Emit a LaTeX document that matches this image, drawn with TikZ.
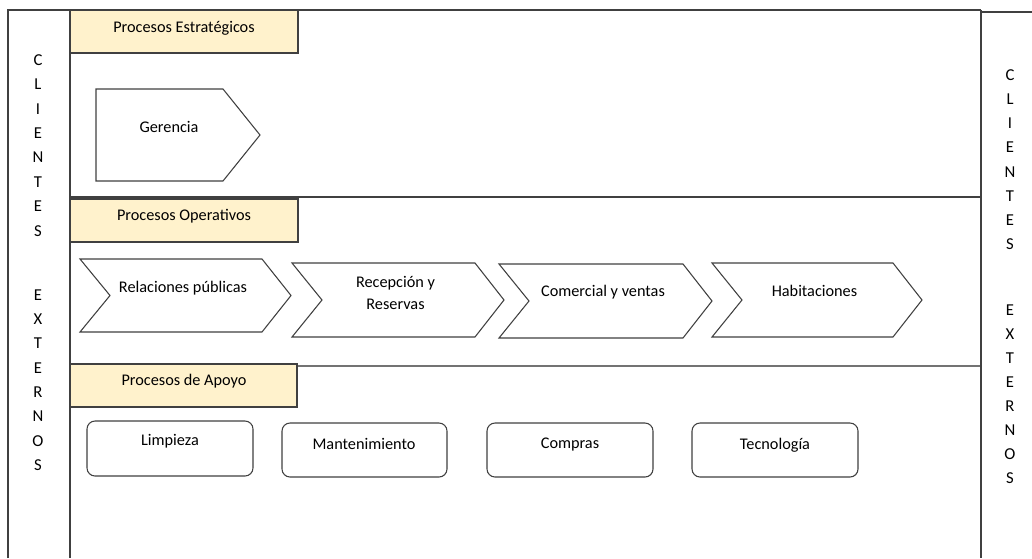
\documentclass[tikz,border=0pt]{standalone}
\usepackage{fontspec}
\setmainfont{Carlito}
\definecolor{hdrfill}{HTML}{FFF2CC}
\definecolor{linegray}{HTML}{404040}

\tikzset{
  frameline/.style={draw=linegray, line width=0.9pt},
  hdrbox/.style={draw=linegray, fill=hdrfill, line width=0.9pt},
  procshape/.style={draw=linegray, fill=white, line width=0.8pt},
  apoyobox/.style={draw=linegray, fill=white, line width=0.8pt, rounded corners=6pt},
  lbl/.style={font=\fontsize{12.2}{14}\selectfont, text=black, align=center, inner sep=0pt},
  vletter/.style={font=\fontsize{12.5}{14}\selectfont, text=black, inner sep=0pt}
}

\begin{document}
\begin{tikzpicture}[x=0.75pt,y=-0.75pt]
  \useasboundingbox (0,0) rectangle (1032,558);

  % Outer frame and column of clients
  \draw[frameline] (8,558) -- (8,10) -- (981,10);
  \draw[frameline] (981,12) -- (1032,12);
  \draw[frameline] (70,10) -- (70,558);
  \draw[frameline] (981,10) -- (981,558);

  % Separators
  \draw[frameline] (70,197) -- (980,197);
  \draw[frameline, draw=black!55] (70,366) -- (980,366);

  % Headers
  \draw[hdrbox] (70,10) rectangle (298,53);
  \node[lbl] (hdrEst) at (184,28) {Procesos Estratégicos};
  \draw[hdrbox] (70,199) rectangle (298,242);
  \node[lbl] (hdrOpe) at (184,216) {Procesos Operativos};
  \draw[hdrbox] (70,364) rectangle (297,407);
  \node[lbl] (hdrApo) at (184,381) {Procesos de Apoyo};

  % Strategic
  \draw[procshape] (96,89) -- (223,89) -- (260,135) -- (223,181) -- (96,181) -- cycle;
  \node[lbl] (gerencia) at (169,127) {Gerencia};

  % Operative chain
  \foreach \xl/\xr/\yt/\yb/\nm/\txt/\ty in {
      80/262/259/332/relpub/{Relaciones públicas}/288,
      292/475/263/337/recep/{Recepción y\\[3pt]Reservas}/293,
      499/683/264/338/comer/{Comercial y ventas}/292,
      712/893/263/337/habit/{Habitaciones}/291} {
    \draw[procshape] (\xl,\yt) -- (\xr,\yt) -- ({\xr+29},{(\yt+\yb)/2})
      -- (\xr,\yb) -- (\xl,\yb) -- ({\xl+30},{(\yt+\yb)/2}) -- cycle;
    \node[lbl] (\nm) at ({(\xl+\xr)/2+12},\ty) {\txt};
  }

  % Support
  \draw[apoyobox] (87,421) rectangle (253,476);
  \node[lbl] (limp) at (170,441) {Limpieza};
  \draw[apoyobox] (282,423) rectangle (447,477);
  \node[lbl] (mant) at (364,444) {Mantenimiento};
  \draw[apoyobox] (487,423) rectangle (653,477);
  \node[lbl] (comp) at (570,445) {Compras};
  \draw[apoyobox] (692,423) rectangle (858,477);
  \node[lbl] (tecn) at (775,445) {Tecnología};

  % Clientes externos
  \foreach \ch [count=\i from 0] in {C,L,I,E,N,T,E,S} {
    \node[vletter] (lc\i) at (38,{60+24.4*\i}) {\ch};
    \node[vletter] (rc\i) at (1010,{75+24.2*\i}) {\ch};
  }
  \foreach \ch [count=\i from 0] in {E,X,T,E,R,N,O,S} {
    \node[vletter] (le\i) at (38,{295+24.3*\i}) {\ch};
    \node[vletter] (re\i) at (1010,{310+24*\i}) {\ch};
  }

\end{tikzpicture}
\end{document}
